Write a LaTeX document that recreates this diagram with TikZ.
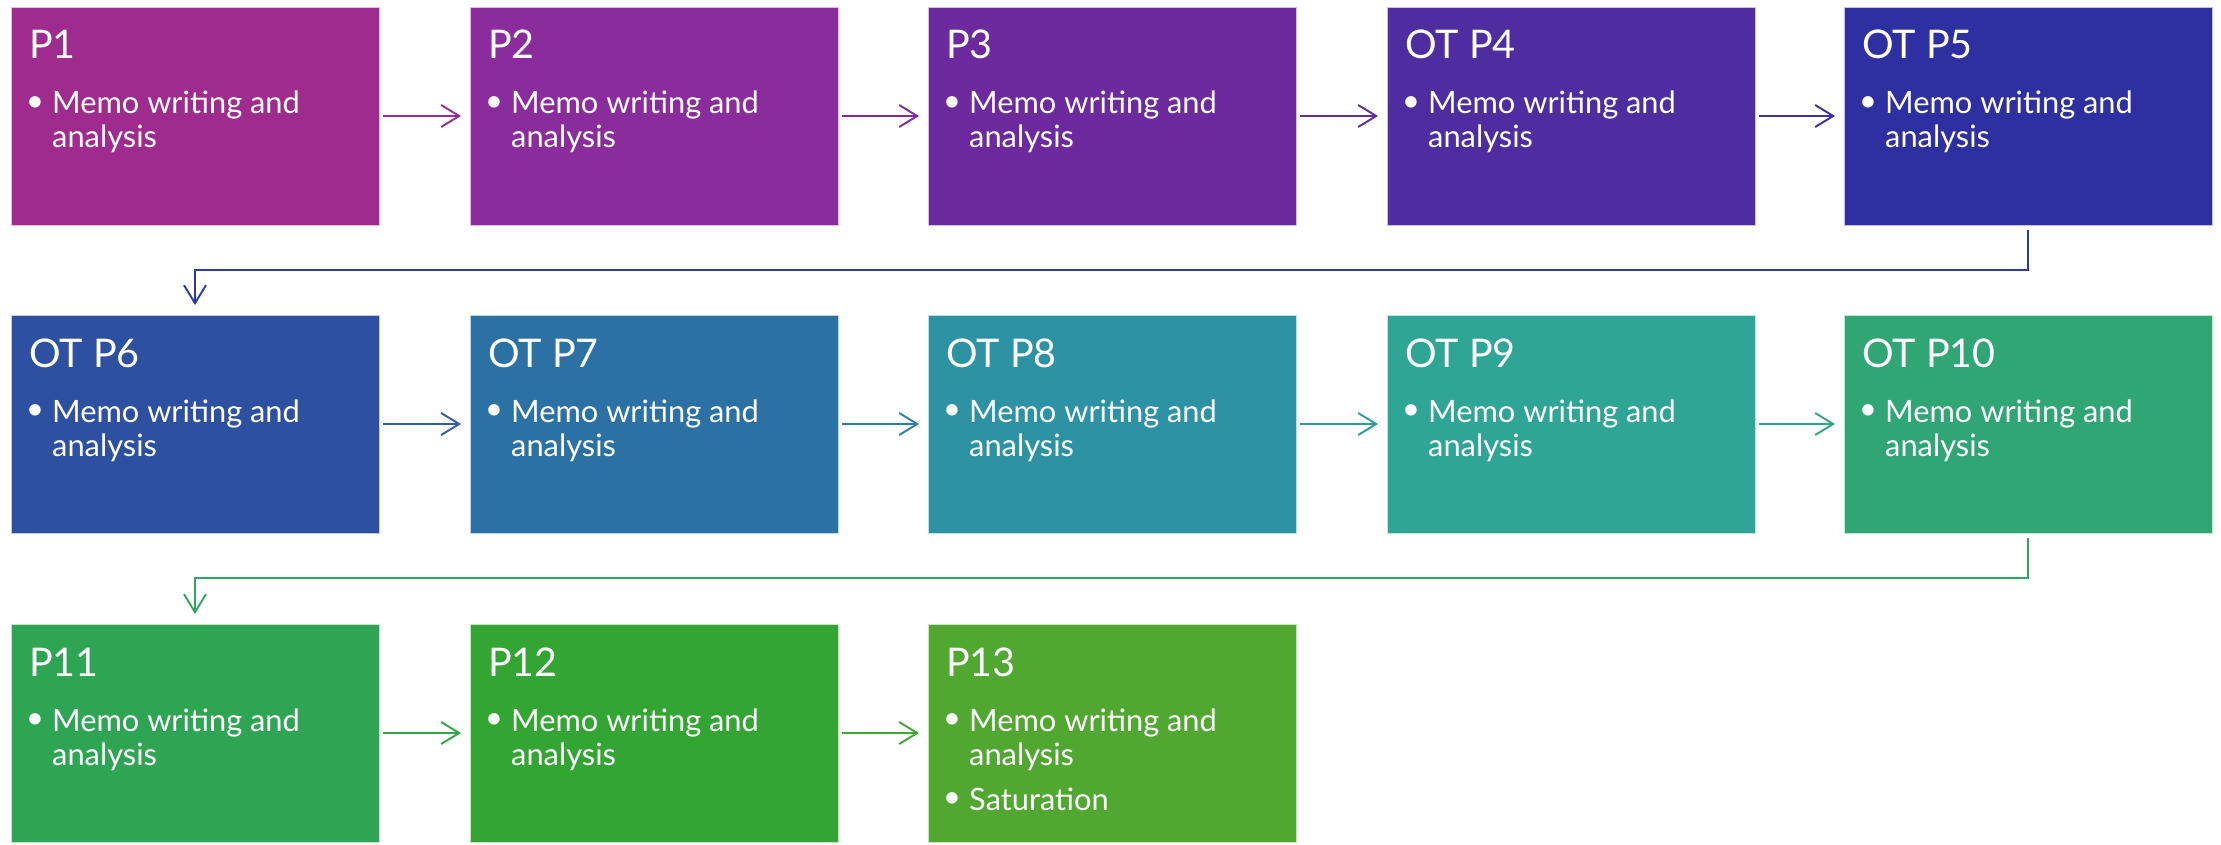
\documentclass[tikz,border=0pt]{standalone}
\usepackage{fontspec}
\setmainfont{Lato}
\usetikzlibrary{arrows.meta}
\definecolor{c1}{HTML}{9F2B8F}
\definecolor{c2}{HTML}{8B2C9D}
\definecolor{c3}{HTML}{6D2A9E}
\definecolor{c4}{HTML}{4D2DA0}
\definecolor{c5}{HTML}{2E2FA1}
\definecolor{c6}{HTML}{2D50A0}
\definecolor{c7}{HTML}{2C71A4}
\definecolor{c8}{HTML}{2E92A5}
\definecolor{c9}{HTML}{2EA595}
\definecolor{c10}{HTML}{2FA674}
\definecolor{c11}{HTML}{2EA553}
\definecolor{c12}{HTML}{33A532}
\definecolor{c13}{HTML}{50A830}
\tikzset{
  stagebox/.style={rectangle, minimum width=368pt, minimum height=218pt, inner sep=0pt, outer sep=0pt, anchor=north west, draw=white!70!#1, line width=0.6pt, fill=#1},
  ttl/.style={text=white, inner sep=0pt, anchor=base west, font=\fontsize{39.5}{46}\selectfont},
  bodyline/.style={text=white, inner sep=0pt, anchor=base west, font=\fontsize{30.8}{36}\selectfont},
  bul/.style={text=white, inner sep=0pt, anchor=center, font=\fontsize{30.8}{36}\selectfont},
  arr/.style={line width=1.9pt, -{Straight Barb[length=18pt, width=22pt, line width=1.9pt]}}
}
\newcommand{\stage}[5]{%
  \node[stagebox=#4] (#1) at (#2pt,-#3pt) {};
  \node[ttl] (#1t) at ([shift={(18pt,-52pt)}]#1.north west) {#5};
  \node[bul] (#1u) at ([shift={(24pt,-97pt)}]#1.north west) {•};
  \node[bodyline] (#1a) at ([shift={(41pt,-107pt)}]#1.north west) {Memo writing and};
  \node[bodyline] (#1b) at ([shift={(41pt,-141pt)}]#1.north west) {analysis};
}
\begin{document}
\begin{tikzpicture}[x=1pt,y=1pt]
\useasboundingbox[fill=white] (0,0) rectangle (2221,-845);
\stage{p1}{11}{7}{c1}{P1}
\stage{p2}{470}{7}{c2}{P2}
\stage{p3}{928}{7}{c3}{P3}
\stage{p4}{1387}{7}{c4}{OT P4}
\stage{p5}{1844}{7}{c5}{OT P5}
\stage{p6}{11}{315}{c6}{OT P6}
\stage{p7}{470}{315}{c7}{OT P7}
\stage{p8}{928}{315}{c8}{OT P8}
\stage{p9}{1387}{315}{c9}{OT P9}
\stage{p10}{1844}{315}{c10}{OT P10}
\stage{p11}{11}{624}{c11}{P11}
\stage{p12}{470}{624}{c12}{P12}
\stage{p13}{928}{624}{c13}{P13}
\node[bul] (p13v) at ([shift={(24pt,-176pt)}]p13.north west) {•};
\node[bodyline] (p13s) at ([shift={(41pt,-186pt)}]p13.north west) {Saturation};
% arrows
\draw[arr, c1!60!c2] ([xshift=4pt]p1.east) -- ([xshift=-9pt]p2.west);
\draw[arr, c2!60!c3] ([xshift=4pt]p2.east) -- ([xshift=-9pt]p3.west);
\draw[arr, c3!60!c4] ([xshift=4pt]p3.east) -- ([xshift=-9pt]p4.west);
\draw[arr, c4!60!c5] ([xshift=4pt]p4.east) -- ([xshift=-9pt]p5.west);
\draw[arr, c5!70!c6] ([yshift=-5pt]p5.south) -- ([yshift=-45pt]p5.south) -| ([yshift=10pt]p6.north);
\draw[arr, c6!60!c7] ([xshift=4pt]p6.east) -- ([xshift=-9pt]p7.west);
\draw[arr, c7!60!c8] ([xshift=4pt]p7.east) -- ([xshift=-9pt]p8.west);
\draw[arr, c8!60!c9] ([xshift=4pt]p8.east) -- ([xshift=-9pt]p9.west);
\draw[arr, c9!60!c10] ([xshift=4pt]p9.east) -- ([xshift=-9pt]p10.west);
\draw[arr, c10!40!c11] ([yshift=-5pt]p10.south) -- ([yshift=-45pt]p10.south) -| ([yshift=10pt]p11.north);
\draw[arr, c11!60!c12] ([xshift=4pt]p11.east) -- ([xshift=-9pt]p12.west);
\draw[arr, c12!60!c13] ([xshift=4pt]p12.east) -- ([xshift=-9pt]p13.west);
\end{tikzpicture}
\end{document}
